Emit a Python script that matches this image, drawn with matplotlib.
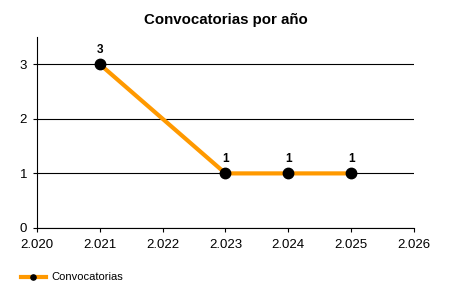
import matplotlib
matplotlib.use("Agg")
import matplotlib.pyplot as plt
from matplotlib.ticker import FuncFormatter

plt.rcParams['font.family'] = ['Liberation Sans', 'DejaVu Sans']

# datos
years = [2021, 2023, 2024, 2025]
counts = [3, 1, 1, 1]

fig = plt.figure(figsize=(4.5, 3), dpi=100)
ax = fig.add_axes([0.082, 0.24, 0.838, 0.637])

ax.plot(years, counts, color='#FF9900', linewidth=3, marker='o',
        markersize=7.5, markerfacecolor='black', markeredgecolor='black',
        label='Convocatorias', zorder=3)
for x, y in zip(years, counts):
    ax.annotate(str(y), (x, y), xytext=(0, 6), textcoords='offset points',
                ha='center', va='bottom', fontsize=8.5, fontweight='bold')

ax.set_xlim(2020, 2026)
ax.set_ylim(0, 3.5)
ax.set_xticks(range(2020, 2027))
ax.set_yticks([0, 1, 2, 3])
ax.xaxis.set_major_formatter(FuncFormatter(lambda v, p: f"{int(v):,}".replace(',', '.')))
ax.yaxis.grid(True, color='black', linewidth=0.8)
ax.set_axisbelow(True)
for s in ['top', 'right']:
    ax.spines[s].set_visible(False)
ax.tick_params(labelsize=9.5, length=3, width=0.8)
ax.tick_params(axis='x', pad=5)
ax.tick_params(axis='y', pad=4)

ax.set_title('Convocatorias por año', fontsize=10.8, fontweight='bold', pad=9)

fig.legend(loc='lower left', bbox_to_anchor=(0.025, 0.025), frameon=False,
           fontsize=8, handlelength=2.2, markerscale=0.5, handletextpad=0.5)

fig.savefig('out.png', dpi=100)
